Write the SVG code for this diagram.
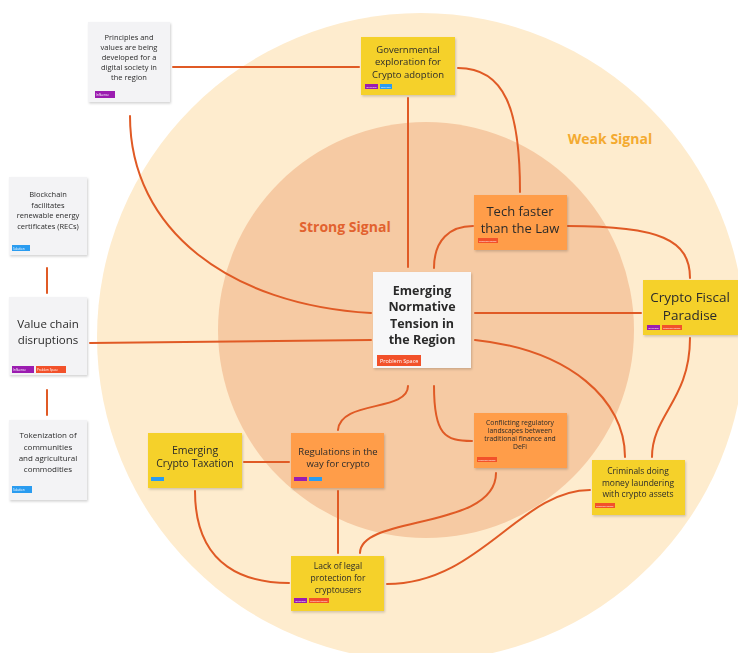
<svg xmlns="http://www.w3.org/2000/svg" width="738" height="653" viewBox="0 0 738 653">
<defs>
<filter id="sh" x="-10%" y="-10%" width="130%" height="130%">
<feDropShadow dx="1" dy="1.5" stdDeviation="1.2" flood-color="#000" flood-opacity="0.18"/>
</filter>
<style>
text{font-family:"Open Sans","Noto Sans","Liberation Sans",sans-serif;fill:#2b2b2b;text-anchor:middle}
.gray{fill:#f3f3f5}
.white{fill:#f7f7f8}
.yel{fill:#f5d12b}
.org{fill:#ff9d48}
.note{filter:url(#sh)}
.conn path,.conn line{fill:none;stroke:#e05a25;stroke-width:2;stroke-linecap:round}
.tp{fill:#9b1fb0}
.tb{fill:#2a9cf0}
.tr{fill:#f2512a}
.tt{fill:#fff;font-size:3px;text-anchor:start}
.sig{font-weight:bold;font-size:14px}
</style>
</defs>
<rect width="738" height="653" fill="#ffffff"/>
<circle cx="421" cy="337" r="324" fill="#feecce"/>
<circle cx="426" cy="330" r="208" fill="#f6caa3"/>
<text class="sig" x="610" y="144" style="fill:#f4aa30">Weak Signal</text>
<text class="sig" x="345" y="232" style="fill:#e2622f">Strong Signal</text>

<g class="conn">
<line x1="173" y1="67" x2="359" y2="67"/>
<path d="M130,116 C130,230 230,305 371,313"/>
<line x1="408" y1="98" x2="408" y2="267"/>
<path d="M458,68 C505,68 520,110 520,192"/>
<path d="M434,268 C434,240 450,226 473,226"/>
<path d="M568,226 C660,226 690,240 690,278"/>
<line x1="475" y1="313" x2="641" y2="313"/>
<path d="M475,340 C570,350 625,400 625,457"/>
<path d="M690,338 C690,400 652,415 652,457"/>
<line x1="90" y1="343" x2="371" y2="340"/>
<line x1="47" y1="268" x2="47" y2="293"/>
<line x1="47" y1="390" x2="47" y2="415"/>
<path d="M408,386 C408,412 340,400 338,430"/>
<path d="M434,386 C434,435 445,441 472,441"/>
<line x1="244" y1="462" x2="289" y2="462"/>
<line x1="338" y1="491" x2="338" y2="553"/>
<path d="M496,473 C496,530 360,515 360,553"/>
<path d="M195,491 C195,570 250,583 289,583"/>
<path d="M387,584 C480,584 520,490 590,490"/>
</g>

<g id="principles" class="note">
<rect class="gray" x="88" y="22" width="82" height="80"/>
<g font-size="7.5"><text x="129" y="40">Principles and</text><text x="129" y="50">values are being</text><text x="129" y="60">developed for a</text><text x="129" y="70">digital society in</text><text x="129" y="80">the region</text></g>
<rect class="tp" x="95" y="91" width="20" height="7"/><text class="tt" x="96" y="96">Influence</text>
</g>

<g id="governmental" class="note">
<rect class="yel" x="361" y="37" width="94" height="58"/>
<g font-size="9.5"><text x="408" y="53">Governmental</text><text x="408" y="65">exploration for</text><text x="408" y="78">Crypto adoption</text></g>
<rect class="tp" x="365" y="84" width="13" height="5"/><text class="tt" x="366" y="88" style="font-size:2.5px">Influence</text>
<rect class="tb" x="380" y="84" width="12" height="5"/><text class="tt" x="381" y="88" style="font-size:2.5px">Solution</text>
</g>

<g id="tech" class="note">
<rect class="org" x="474" y="195" width="93" height="55"/>
<g font-size="13"><text x="520" y="216">Tech faster</text><text x="520" y="233">than the Law</text></g>
<rect class="tr" x="478" y="238" width="20" height="5"/><text class="tt" x="479" y="242" style="font-size:2.5px">Problem Space</text>
</g>

<g id="fiscal" class="note">
<rect class="yel" x="643" y="280" width="95" height="55"/>
<g font-size="13.5"><text x="690" y="302">Crypto Fiscal</text><text x="690" y="320">Paradise</text></g>
<rect class="tp" x="647" y="325" width="13" height="5"/><text class="tt" x="648" y="329" style="font-size:2.5px">Influence</text>
<rect class="tr" x="662" y="325" width="20" height="5"/><text class="tt" x="663" y="329" style="font-size:2.5px">Problem Space</text>
</g>

<g id="center" class="note">
<rect class="white" x="373" y="272" width="98" height="96"/>
<g font-size="12.5" font-weight="bold"><text x="422" y="294.5">Emerging</text><text x="422" y="311">Normative</text><text x="422" y="327.5">Tension in</text><text x="422" y="344">the Region</text></g>
<rect class="tr" x="377" y="355" width="44" height="11"/><text class="tt" x="380" y="362.5" style="font-size:5.5px">Problem Space</text>
</g>

<g id="blockchain" class="note">
<rect class="gray" x="9" y="177" width="78" height="78"/>
<g font-size="7.5"><text x="48" y="197">Blockchain</text><text x="48" y="207.5">facilitates</text><text x="48" y="218">renewable energy</text><text x="48" y="228.5">certificates (RECs)</text></g>
<rect class="tb" x="12" y="245" width="18" height="6"/><text class="tt" x="13" y="249.5">Solution</text>
</g>

<g id="valuechain" class="note">
<rect class="gray" x="9" y="297" width="78" height="78"/>
<g font-size="11.5"><text x="48" y="328">Value chain</text><text x="48" y="344">disruptions</text></g>
<rect class="tp" x="12" y="366" width="22" height="7"/><text class="tt" x="13" y="371">Influence</text>
<rect class="tr" x="36" y="366" width="30" height="7"/><text class="tt" x="37" y="371">Problem Space</text>
</g>

<g id="tokenization" class="note">
<rect class="gray" x="9" y="420" width="78" height="80"/>
<g font-size="8"><text x="48" y="438">Tokenization of</text><text x="48" y="449.5">communities</text><text x="48" y="460.5">and agricultural</text><text x="48" y="472">commodities</text></g>
<rect class="tb" x="12" y="486" width="20" height="7"/><text class="tt" x="13" y="491">Solution</text>
</g>

<g id="taxation" class="note">
<rect class="yel" x="148" y="433" width="94" height="55"/>
<g font-size="10.5"><text x="195" y="454">Emerging</text><text x="195" y="467">Crypto Taxation</text></g>
<rect class="tb" x="151" y="477" width="13" height="4"/>
</g>

<g id="regulations" class="note">
<rect class="org" x="291" y="433" width="93" height="55"/>
<g font-size="9.5"><text x="338" y="455">Regulations in the</text><text x="338" y="467">way for crypto</text></g>
<rect class="tp" x="294" y="477" width="13" height="4"/>
<rect class="tb" x="309" y="477" width="13" height="4"/>
</g>

<g id="conflicting" class="note">
<rect class="org" x="474" y="413" width="93" height="55"/>
<g font-size="6.8"><text x="520" y="425">Conflicting regulatory</text><text x="520" y="433">landscapes between</text><text x="520" y="441">traditional finance and</text><text x="520" y="449">DeFi</text></g>
<rect class="tr" x="477" y="457" width="20" height="5"/><text class="tt" x="478" y="461" style="font-size:2.5px">Problem Space</text>
</g>

<g id="criminals" class="note">
<rect class="yel" x="592" y="460" width="93" height="55"/>
<g font-size="8.5"><text x="638" y="474">Criminals doing</text><text x="638" y="485.5">money laundering</text><text x="638" y="497">with crypto assets</text></g>
<rect class="tr" x="595" y="503" width="20" height="5"/><text class="tt" x="596" y="507" style="font-size:2.5px">Problem Space</text>
</g>

<g id="lacklegal" class="note">
<rect class="yel" x="291" y="556" width="93" height="55"/>
<g font-size="8.5"><text x="338" y="569">Lack of legal</text><text x="338" y="581">protection for</text><text x="338" y="592.5">cryptousers</text></g>
<rect class="tp" x="294" y="598" width="13" height="5"/><text class="tt" x="295" y="602" style="font-size:2.5px">Influence</text>
<rect class="tr" x="309" y="598" width="20" height="5"/><text class="tt" x="310" y="602" style="font-size:2.5px">Problem Space</text>
</g>
</svg>
